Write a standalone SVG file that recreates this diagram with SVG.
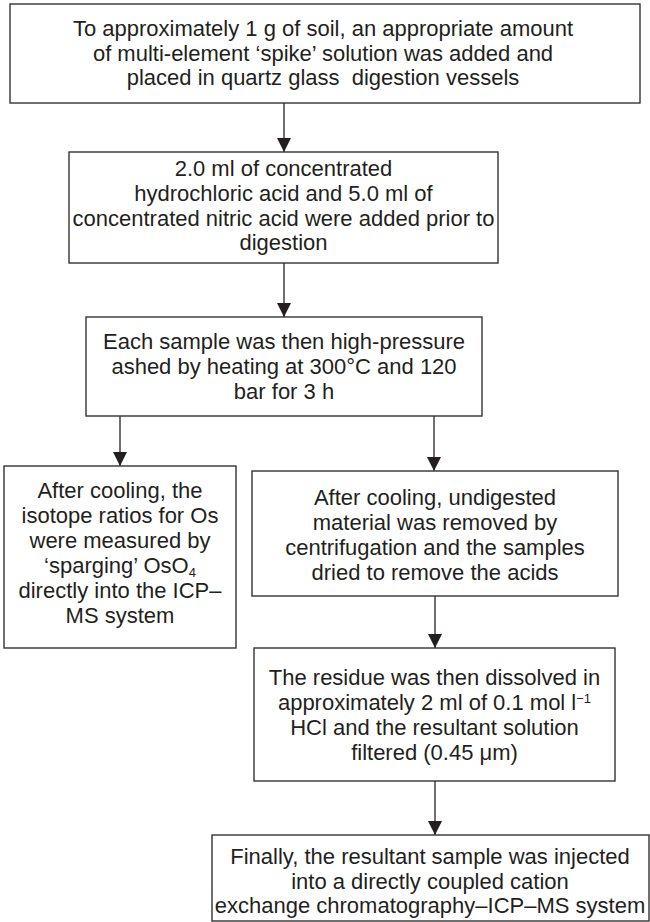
<svg xmlns="http://www.w3.org/2000/svg" width="650" height="922" viewBox="0 0 650 922">
<defs>
<style>
.box{fill:#fff;stroke:#333;stroke-width:1.4}
.t{font-family:"Liberation Sans",Arial,Helvetica,sans-serif;font-size:22px;fill:#231f20;text-anchor:middle}
.s{font-size:13px}
.c{stroke:#333;stroke-width:1.4;fill:none}
</style>
<marker id="ad" markerUnits="userSpaceOnUse" markerWidth="14" markerHeight="14" refX="14" refY="7" orient="auto" viewBox="0 0 14 14">
<path d="M0,0 L14,7 L0,14 Z" fill="#231f20"/>
</marker>
</defs>
<rect width="650" height="922" fill="#fff"/>
<g id="connectors">
<line class="c" x1="284" y1="103" x2="284" y2="152" marker-end="url(#ad)"/>
<line class="c" x1="284" y1="263" x2="284" y2="317" marker-end="url(#ad)"/>
<line class="c" x1="120" y1="416" x2="120" y2="466" marker-end="url(#ad)"/>
<line class="c" x1="434" y1="416" x2="434" y2="471" marker-end="url(#ad)"/>
<line class="c" x1="435" y1="596" x2="435" y2="648" marker-end="url(#ad)"/>
<line class="c" x1="435" y1="781" x2="435" y2="835" marker-end="url(#ad)"/>
</g>
<g id="n1">
<rect class="box" x="10" y="4" width="630" height="99"/>
<text class="t" x="323" y="36">To approximately 1 g of soil, an appropriate amount</text>
<text class="t" x="323" y="61">of multi-element ‘spike’ solution was added and</text>
<text class="t" x="323" y="85" xml:space="preserve">placed in quartz glass  digestion vessels</text>
</g>
<g id="n2">
<rect class="box" x="69" y="152" width="429" height="111"/>
<text class="t" x="283.5" y="176">2.0 ml of concentrated</text>
<text class="t" x="283.5" y="201">hydrochloric acid and 5.0 ml of</text>
<text class="t" x="283.5" y="226">concentrated nitric acid were added prior to</text>
<text class="t" x="283.5" y="250">digestion</text>
</g>
<g id="n3">
<rect class="box" x="86" y="317" width="396" height="99"/>
<text class="t" x="284" y="349">Each sample was then high-pressure</text>
<text class="t" x="284" y="374">ashed by heating at 300°C and 120</text>
<text class="t" x="284" y="399">bar for 3 h</text>
</g>
<g id="n4">
<rect class="box" x="4" y="466" width="232" height="182"/>
<text class="t" x="120" y="498">After cooling, the</text>
<text class="t" x="120" y="523">isotope ratios for Os</text>
<text class="t" x="120" y="548">were measured by</text>
<text class="t" x="120" y="573">‘sparging’ OsO<tspan class="s" dy="4">4</tspan></text>
<text class="t" x="120" y="598">directly into the ICP–</text>
<text class="t" x="120" y="623">MS system</text>
</g>
<g id="n5">
<rect class="box" x="252" y="471" width="366" height="125"/>
<text class="t" x="435" y="505">After cooling, undigested</text>
<text class="t" x="435" y="530">material was removed by</text>
<text class="t" x="435" y="555">centrifugation and the samples</text>
<text class="t" x="435" y="580">dried to remove the acids</text>
</g>
<g id="n6">
<rect class="box" x="254" y="648" width="361" height="133"/>
<text class="t" x="434.5" y="685">The residue was then dissolved in</text>
<text class="t" x="434.5" y="710">approximately 2 ml of 0.1 mol l<tspan class="s" dy="-7">−1</tspan></text>
<text class="t" x="434.5" y="735">HCl and the resultant solution</text>
<text class="t" x="434.5" y="760">filtered (0.45 μm)</text>
</g>
<g id="n7">
<rect class="box" x="212" y="835" width="437" height="86"/>
<text class="t" x="430" y="864">Finally, the resultant sample was injected</text>
<text class="t" x="430" y="889">into a directly coupled cation</text>
<text class="t" x="430" y="913">exchange chromatography–ICP–MS system</text>
</g>
</svg>
